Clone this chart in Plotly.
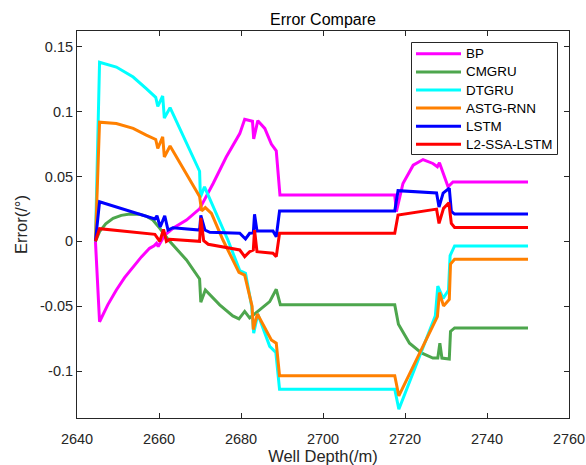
import plotly.graph_objects as go

# Well depth (m) and prediction error (deg) for each model
bp_depth = [2644.5, 2645.5, 2647.5, 2649.6, 2651.6, 2653.7, 2655.7, 2657.7, 2658.8, 2659.4, 2659.8,
            2661.4, 2663.4, 2666.7, 2669.9, 2673.2, 2676.4, 2679.7, 2680.9, 2682.8, 2683.1, 2684.1,
            2685.8, 2687.4, 2688.6, 2689.5, 2717.5, 2717.9, 2719.5, 2722.0, 2724.4, 2726.8, 2727.9,
            2728.4, 2729.7, 2730.5, 2731.7, 2732.2, 2750.0]
bp_err = [0.0, -0.062, -0.049, -0.0375, -0.028, -0.0195, -0.012, -0.0054, -0.0035, -0.0015, -0.004,
          0.0048, 0.0100, 0.0164, 0.0250, 0.0446, 0.0650, 0.0830, 0.0940, 0.0925, 0.0790, 0.0930,
          0.0870, 0.0750, 0.0697, 0.0356, 0.0356, 0.0228, 0.0446, 0.0587, 0.0630, 0.0600, 0.0575,
          0.0605, 0.0485, 0.0420, 0.0458, 0.0458, 0.0458]

cmgru_depth = [2644.5, 2645.5, 2647.0, 2648.8, 2650.8, 2652.9, 2655.3, 2657.0, 2658.5, 2660.2, 2662.6,
               2666.7, 2669.9, 2670.2, 2671.3, 2674.8, 2678.0, 2679.5, 2680.9, 2682.1, 2684.1, 2687.0,
               2688.6, 2689.6, 2717.5, 2718.4, 2721.1, 2724.0, 2726.8, 2728.0, 2728.5, 2729.0, 2730.8,
               2731.1, 2732.1, 2750.0]
cmgru_err = [0.0, 0.0074, 0.0135, 0.0177, 0.0200, 0.0210, 0.0208, 0.0192, 0.0164, 0.0100, 0.0000,
             -0.0144, -0.0290, -0.0470, -0.0375, -0.0490, -0.0575, -0.0598, -0.0540, -0.0590, -0.0540,
             -0.0465, -0.0370, -0.0490, -0.0490, -0.0640, -0.0785, -0.0860, -0.0900, -0.0900, -0.0785,
             -0.0900, -0.0908, -0.0695, -0.0668, -0.0668]

dtgru_depth = [2644.5, 2645.5, 2649.6, 2653.7, 2656.9, 2659.2, 2659.7, 2660.9, 2661.3, 2662.7, 2669.9,
               2670.1, 2671.1, 2676.8, 2679.7, 2681.1, 2682.6, 2683.1, 2684.1, 2687.0, 2688.5, 2689.4,
               2717.5, 2718.5, 2727.4, 2728.0, 2729.3, 2730.6, 2731.0, 2732.1, 2750.0]
dtgru_err = [0.0, 0.138, 0.1343, 0.1266, 0.1177, 0.111, 0.104, 0.112, 0.095, 0.103, 0.054,
             0.034, 0.042, 0.001, -0.0226, -0.0246, -0.050, -0.0708, -0.056, -0.081, -0.0857, -0.1140,
             -0.1140, -0.1295, -0.0575, -0.0345, -0.0440, -0.0378, -0.0110, -0.0036, -0.0036]

astg_depth = [2644.5, 2645.5, 2649.6, 2653.7, 2656.9, 2659.2, 2659.7, 2660.9, 2661.3, 2662.7, 2669.9,
              2670.4, 2671.3, 2672.8, 2675.6, 2679.5, 2680.9, 2682.7, 2683.0, 2684.0, 2687.4, 2688.6,
              2689.4, 2717.5, 2718.5, 2727.9, 2728.4, 2729.4, 2730.8, 2731.1, 2732.1, 2750.0]
astg_err = [0.0, 0.0918, 0.0908, 0.0870, 0.0818, 0.0785, 0.0715, 0.0805, 0.0650, 0.0735, 0.0345,
            0.0235, 0.0260, 0.0215, 0.0010, -0.0240, -0.0260, -0.0500, -0.0680, -0.0560, -0.0760, -0.0785,
            -0.1036, -0.1036, -0.1192, -0.0580, -0.0395, -0.0498, -0.0448, -0.0175, -0.0138, -0.0138]

lstm_depth = [2644.5, 2645.5, 2659.0, 2659.5, 2660.3, 2661.4, 2662.2, 2663.4, 2669.9, 2670.2, 2671.2,
              2672.4, 2679.7, 2681.1, 2682.1, 2683.0, 2683.3, 2683.9, 2687.8, 2688.6, 2689.4, 2717.5,
              2718.3, 2727.7, 2728.3, 2729.3, 2730.8, 2731.3, 2732.1, 2750.0]
lstm_err = [0.0, 0.0305, 0.0172, 0.0197, 0.0110, 0.0197, 0.0087, 0.0105, 0.0087, 0.0200, 0.0087,
            0.0069, 0.0062, 0.0018, 0.0062, 0.0065, 0.0208, 0.0079, 0.0079, 0.0035, 0.0233, 0.0233,
            0.0390, 0.0372, 0.0264, 0.0372, 0.0410, 0.0230, 0.0210, 0.0210]

l2ssa_depth = [2644.5, 2645.5, 2659.0, 2660.2, 2661.1, 2661.8, 2662.6, 2669.9, 2670.2, 2670.9, 2672.0,
               2679.7, 2680.9, 2682.1, 2683.0, 2683.3, 2683.9, 2687.8, 2688.6, 2689.4, 2717.5, 2718.3,
               2727.7, 2728.3, 2729.4, 2730.7, 2731.3, 2732.1, 2750.0]
l2ssa_err = [0.0, 0.0097, 0.0054, 0.0000, 0.0092, 0.0000, 0.0015, 0.0000, 0.0180, 0.0005, -0.0023,
             -0.0067, -0.0118, -0.0080, -0.0067, 0.0087, -0.0080, -0.0092, -0.0118, 0.0062, 0.0062, 0.0202,
             0.0248, 0.0138, 0.0254, 0.0297, 0.0138, 0.0106, 0.0106]

model_names = ["BP", "CMGRU", "DTGRU", "ASTG-RNN", "LSTM", "L2-SSA-LSTM"]
model_colors = ["#FF00FF", "#4DA64D", "#00FFFF", "#FF8000", "#0000FF", "#FF0000"]
depths = [bp_depth, cmgru_depth, dtgru_depth, astg_depth, lstm_depth, l2ssa_depth]
errors = [bp_err, cmgru_err, dtgru_err, astg_err, lstm_err, l2ssa_err]

x_ticks = [2640, 2660, 2680, 2700, 2720, 2740, 2760]
y_ticks = [-0.1, -0.05, 0, 0.05, 0.1, 0.15]
y_tick_text = ["-0.1", "-0.05", "0", "0.05", "0.1", "0.15"]

FONT = "Liberation Sans, Arial, sans-serif"
INK = "#262626"
W, H = 586, 465
M = dict(l=77, r=17, t=31, b=47)
PW, PH = W - M["l"] - M["r"], H - M["t"] - M["b"]

fig = go.Figure()
for name, depth, err, color in zip(model_names, depths, errors, model_colors):
    fig.add_trace(go.Scatter(x=depth, y=err, name=name, mode="lines", showlegend=False,
                             line=dict(color=color, width=3)))

# Boxed legend in the upper right corner of the axes (MATLAB style)
def px_x(px):
    return (px - M["l"]) / PW

def px_y(py):
    return (H - M["b"] - py) / PH

box_left, box_right, box_top, box_bottom = 411.5, 557.5, 42.5, 154.5
fig.add_shape(type="rect", xref="paper", yref="paper",
              x0=px_x(box_left), x1=px_x(box_right), y0=px_y(box_bottom), y1=px_y(box_top),
              line=dict(color=INK, width=1), fillcolor="white", layer="above")
row0, row_step = 53.8, 18.1
for i, (name, color) in enumerate(zip(model_names, model_colors)):
    ry = px_y(row0 + i * row_step)
    fig.add_shape(type="line", xref="paper", yref="paper",
                  x0=px_x(416), x1=px_x(461), y0=ry, y1=ry,
                  line=dict(color=color, width=3), layer="above")
    fig.add_annotation(text=name, xref="paper", yref="paper", x=px_x(464), y=ry,
                       xanchor="left", yanchor="middle", showarrow=False,
                       font=dict(family=FONT, size=13.4, color="#000000"))

axis_common = dict(
    showline=True, linecolor=INK, linewidth=1, mirror="ticks",
    ticks="inside", ticklen=5, tickcolor=INK, tickwidth=1,
    showgrid=False, zeroline=False, automargin=False,
    tickfont=dict(family=FONT, size=14.5, color=INK),
)

fig.update_layout(
    width=W, height=H,
    margin=M,
    paper_bgcolor="white", plot_bgcolor="white",
    font=dict(family=FONT, color=INK),
    title=dict(text="Error Compare", x=0.5, xref="paper", xanchor="center",
               y=1 - 19 / H, yref="container", yanchor="middle",
               font=dict(family=FONT, size=16, color="#000000")),
    xaxis=dict(range=[2640, 2760], tickvals=x_ticks, ticklabelstandoff=8,
               title=dict(text="Well Depth(/m)", font=dict(family=FONT, size=16.5, color=INK), standoff=9),
               **axis_common),
    yaxis=dict(range=[-0.1362, 0.1621], tickvals=y_ticks, ticktext=y_tick_text,
               title=dict(text="Error(/°)", font=dict(family=FONT, size=16.5, color=INK), standoff=8),
               **axis_common),
    showlegend=False,
)

fig.write_html("out.html")
